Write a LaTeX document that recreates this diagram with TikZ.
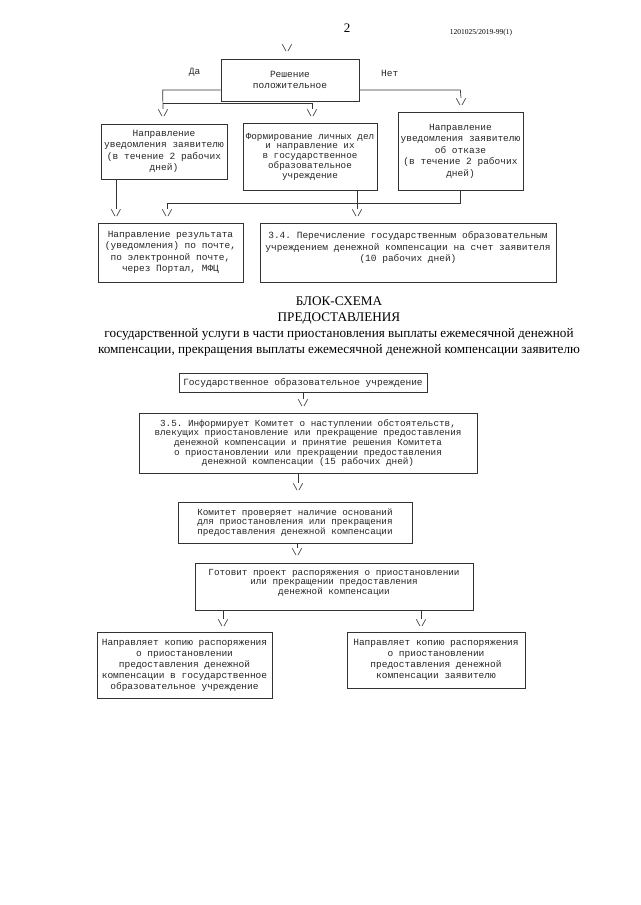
\documentclass[tikz,border=0pt]{standalone}
\usepackage{fontspec}
\setmainfont{Liberation Serif}
\setmonofont{Liberation Mono}
\newcommand{\downtip}{\textbackslash/}
\tikzset{box/.style={draw=black!80,line width=0.7pt,align=center,inner sep=1pt,text=black!85,font=\ttfamily\fontsize{9.5}{11.5}\selectfont},tight/.style={font=\ttfamily\fontsize{9.3}{9.7}\selectfont},vtip/.style={inner sep=0.5pt,text=black!85,font=\ttfamily\fontsize{9.5}{10}\selectfont},link/.style={draw=black!80,line width=0.7pt},lbl/.style={text=black!85,font=\ttfamily\fontsize{9.5}{10}\selectfont}}
\begin{document}
\begin{tikzpicture}[x=1pt,y=-1pt]
\useasboundingbox (0,0) rectangle (640,905);
\node[font=\fontsize{13}{15}\selectfont] (page) at (347,28) {2};
\node[font=\fontsize{7.5}{9}\selectfont] (code) at (481,33) {1201025/2019-99(1)};
\node[vtip] (t0) at (287,48) {\downtip};
\node[box,minimum width=138pt,minimum height=42pt] (dec) at (290,80) {Решение\\положительное};
\node[vtip] (tA) at (163,113) {\downtip};
\node[vtip] (tB) at (312,113) {\downtip};
\node[vtip] (tC) at (461,102) {\downtip};
\node[box,minimum width=126pt,minimum height=55pt] (notify) at (164,151.5) {Направление\\уведомления заявителю\\(в течение 2 рабочих\\дней)};
\node[box,tight,minimum width=134pt,minimum height=67pt] (files) at (310,156.5) {Формирование личных дел\\и направление их\\в государственное\\образовательное\\учреждение};
\node[box,minimum width=125pt,minimum height=78pt] (refuse) at (460.5,151) {Направление\\уведомления заявителю\\об отказе\\(в течение 2 рабочих\\дней)};
\node[vtip] (tD1) at (116,213) {\downtip};
\node[vtip] (tD2) at (167,213) {\downtip};
\node[vtip] (tE) at (357,213) {\downtip};
\node[box,minimum width=145pt,minimum height=59pt] (result) at (170.5,252.5) {Направление результата\\(уведомления) по почте,\\по электронной почте,\\через Портал, МФЦ};
\node[box,minimum width=296pt,minimum height=59pt] (pay) at (408,252.5) {3.4. Перечисление государственным образовательным\\учреждением денежной компенсации на счет заявителя\\(10 рабочих дней)\\~};
\node[align=center,font=\fontsize{13.2}{16}\selectfont] (title) at (339,327) {БЛОК-СХЕМА\\ПРЕДОСТАВЛЕНИЯ\\государственной услуги в части приостановления выплаты ежемесячной денежной\\компенсации, прекращения выплаты ежемесячной денежной компенсации заявителю};
\node[box,minimum width=248pt,minimum height=19pt] (school) at (303,382.5) {Государственное образовательное учреждение};
\node[vtip] (tH) at (303,403) {\downtip};
\node[box,tight,minimum width=338pt,minimum height=60pt] (inform) at (308,443) {3.5. Информирует Комитет о наступлении обстоятельств,\\влекущих приостановление или прекращение предоставления\\денежной компенсации и принятие решения Комитета\\о приостановлении или прекращении предоставления\\денежной компенсации (15 рабочих дней)};
\node[vtip] (tI) at (298,487) {\downtip};
\node[box,tight,minimum width=234pt,minimum height=41pt] (check) at (295,522.5) {Комитет проверяет наличие оснований\\для приостановления или прекращения\\предоставления денежной компенсации};
\node[vtip] (tJ) at (297,552) {\downtip};
\node[box,tight,minimum width=278pt,minimum height=47pt] (draft) at (334,586.5) {Готовит проект распоряжения о приостановлении\\или прекращении предоставления\\денежной компенсации\\~};
\node[vtip] (tK) at (223,623) {\downtip};
\node[vtip] (tL) at (421,623) {\downtip};
\node[box,font=\ttfamily\fontsize{9.5}{11}\selectfont,minimum width=175pt,minimum height=66pt] (copyschool) at (184.5,665) {Направляет копию распоряжения\\о приостановлении\\предоставления денежной\\компенсации в государственное\\образовательное учреждение};
\node[box,font=\ttfamily\fontsize{9.5}{11}\selectfont,minimum width=178pt,minimum height=56pt] (copyapp) at (436,660) {Направляет копию распоряжения\\о приостановлении\\предоставления денежной\\компенсации заявителю};
\draw[link] ([yshift=-10pt]dec.west) -- node[lbl,pos=0.45,above=10pt] {Да} ++(-58pt,0) -- (tA.north);
\draw[link] ([yshift=5pt]tA.north) -| (tB.north);
\draw[link] ([yshift=-10pt]dec.east) -- node[lbl,pos=0.3,above=10pt] {Нет} ++(101pt,0) -- (tC.north);
\draw[link] (notify.south-|tD1.north) -- (tD1.north);
\draw[link] (refuse.south) |- ([yshift=5pt]tD2.north) -- (tD2.north);
\draw[link] (files.south-|tE.north) -- (tE.north);
\draw[link] (school.south-|tH.north) -- (tH.north);
\draw[link] (inform.south-|tI.north) -- (tI.north);
\draw[link] (check.south-|tJ.north) -- (tJ.north);
\draw[link] (draft.south-|tK.north) -- (tK.north);
\draw[link] (draft.south-|tL.north) -- (tL.north);
\end{tikzpicture}
\end{document}
